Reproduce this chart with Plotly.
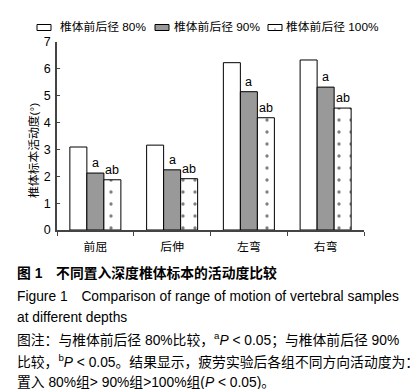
import plotly.graph_objects as go

categories = ["前屈", "后伸", "左弯", "右弯"]
series_names = ["椎体前后径 80%", "椎体前后径 90%", "椎体前后径 100%"]
v80 = [3.09, 3.16, 6.23, 6.33]
v90 = [2.12, 2.24, 5.15, 5.32]
v100 = [1.87, 1.91, 4.18, 4.54]
sig90 = ["a", "a", "a", "a"]
sig100 = ["ab", "ab", "ab", "ab"]
y_ticks = [0, 1, 2, 3, 4, 5, 6, 7]

W, H = 418, 389
L, R, T, B = 49, 356, 34, 222
CJK = "Liberation Sans, Arial, Noto Sans CJK SC"
BARGAP = 0.335
bw = (1 - BARGAP) / 3
fills = ["white", "#999999", "white"]


def px(x):
    return (x - L) / (R - L)


def py(y):
    return (B - y) / (B - T)


fig = go.Figure()
fig.add_bar(x=categories, y=v80, name=series_names[0], showlegend=False,
            marker=dict(color=fills[0], line=dict(color="black", width=1)))
fig.add_bar(x=categories, y=v90, name=series_names[1], showlegend=False,
            marker=dict(color=fills[1], line=dict(color="black", width=1)))
fig.add_bar(x=categories, y=v100, name=series_names[2], showlegend=False,
            marker=dict(color=fills[2], line=dict(color="black", width=1),
                        pattern=dict(shape=".", fgcolor="black", bgcolor="white",
                                     size=12, solidity=0.06, fillmode="overlay")))

ann = []
for i in range(len(categories)):
    ann.append(dict(x=i, y=v90[i], xref="x", yref="y", text=sig90[i], showarrow=False,
                    yanchor="bottom", yshift=1, font=dict(size=12.5, color="black", family=CJK)))
    ann.append(dict(x=i + bw, y=v100[i], xref="x", yref="y", text=sig100[i], showarrow=False,
                    yanchor="bottom", yshift=1, font=dict(size=12.5, color="black", family=CJK)))

ann.append(dict(x=px(17), y=py(143), xref="paper", yref="paper", text="椎体标本活动度(°)",
                textangle=-90, showarrow=False, font=dict(size=11.8, color="black", family=CJK)))

# manual legend
shapes = []
leg_box_x = [(29, 43), (147, 161), (260, 274)]
leg_text_x = [50, 164, 276]
for k in range(3):
    x0, x1 = leg_box_x[k]
    shapes.append(dict(type="rect", xref="paper", yref="paper",
                       x0=px(x0), x1=px(x1), y0=py(22.5), y1=py(16.5),
                       line=dict(color="black", width=1), fillcolor=fills[k]))
    ann.append(dict(x=px(leg_text_x[k]), y=py(19.5), xref="paper", yref="paper",
                    text=series_names[k], showarrow=False, xanchor="left", yanchor="middle",
                    font=dict(size=11.8, color="black", family=CJK)))
shapes.append(dict(type="rect", xref="paper", yref="paper",
                   x0=px(266.5), x1=px(267.5), y0=py(21.5), y1=py(20.5),
                   line=dict(width=0), fillcolor="black"))

captions = [
    (265, "<b>图 1　不同置入深度椎体标本的活动度比较</b>"),
    (288, "Figure 1　Comparison of range of motion of vertebral samples"),
    (309, "at different depths"),
    (331, "图注：与椎体前后径 80%比较，<sup>a</sup><i>P</i> < 0.05；与椎体前后径 90%"),
    (353, "比较，<sup>b</sup><i>P</i> < 0.05。结果显示，疲劳实验后各组不同方向活动度为："),
    (374, "置入 80%组> 90%组>100%组(<i>P</i> < 0.05)。"),
]
for yy, txt in captions:
    ann.append(dict(x=px(7), y=py(yy), xref="paper", yref="paper", text=txt, showarrow=False,
                    xanchor="left", yanchor="middle", align="left",
                    font=dict(size=13.8, color="black", family=CJK)))

fig.update_layout(
    width=W, height=H, autosize=False,
    margin=dict(l=L, r=W - R, t=T, b=H - B, pad=0),
    paper_bgcolor="white", plot_bgcolor="white",
    barmode="group", bargap=BARGAP, bargroupgap=0,
    font=dict(family=CJK, color="black", size=12),
    showlegend=False,
    annotations=ann,
    shapes=shapes,
    xaxis=dict(type="category", range=[-0.5, 3.5], showline=True, linecolor="#444444", linewidth=1.5,
               ticks="outside", ticklen=4, tickcolor="#444444", tickson="boundaries",
               showgrid=False, zeroline=False, ticklabelstandoff=5,
               tickfont=dict(size=11.8, family="Noto Sans CJK SC")),
    yaxis=dict(range=[0, 7], tickvals=y_ticks, showline=True, linecolor="#444444", linewidth=1.5,
               ticks="inside", ticklen=3, tickcolor="#444444", showgrid=False, zeroline=False,
               tickfont=dict(size=12.5, family=CJK), ticklabelstandoff=2),
)

fig.write_html("out.html")
